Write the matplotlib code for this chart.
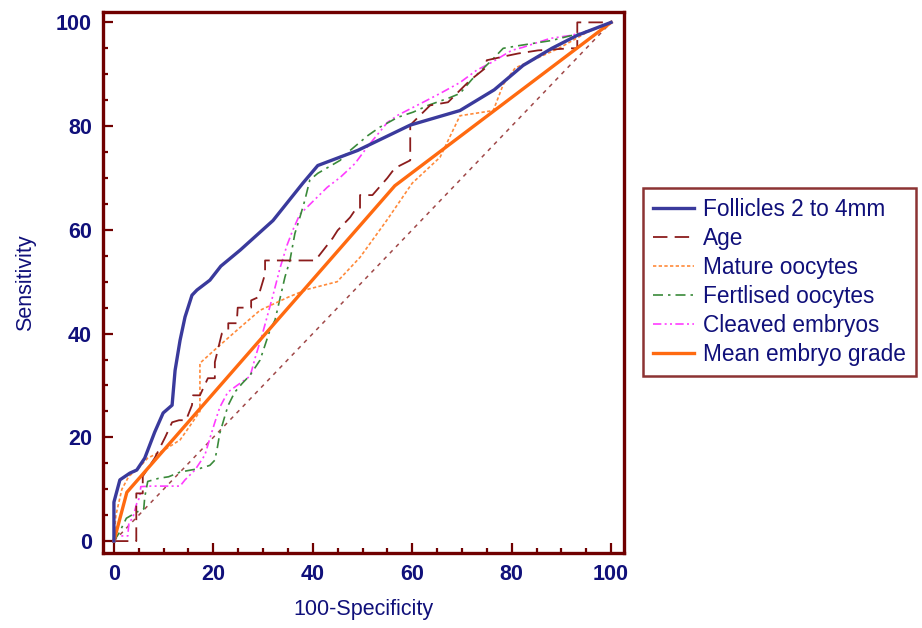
"""ROC curves for the IVF outcome predictors.

Each predictor's sensitivity is plotted against 100-specificity (both in %),
with the chance diagonal underneath for reference.
"""

import matplotlib
matplotlib.use("Agg")
import matplotlib.pyplot as plt
from matplotlib.ticker import MultipleLocator

plt.rcParams["font.family"] = ["Liberation Sans", "DejaVu Sans"]

# ---------------------------------------------------------------------
# ROC coordinates (x = 100-specificity, y = sensitivity)
# ---------------------------------------------------------------------
follicles_x = [0, 0, 1.2, 3.2, 4.6, 6.2, 7.2, 8.2, 9.9, 11.7, 12.3, 13.3, 14.3,
               15.7, 16.7, 19.3, 21.5, 25.4, 32, 38, 41, 49, 59.6, 69.6, 76.5,
               82.3, 88.1, 93.2, 100]
follicles_y = [0, 7.5, 11.8, 13.1, 13.7, 16, 18.5, 21, 24.7, 26.2, 32.9, 38.7, 43.2,
               47.4, 48.4, 50.3, 53, 56.1, 61.8, 69, 72.4, 75.3, 80.2, 83, 87,
               91.7, 95, 97.5, 100]

age_x = [0, 4.5, 4.5, 5.8, 5.8, 8.2, 10.3, 11.7, 13.1, 14.5, 15.7, 15.9, 17.3,
         18.9, 20.3, 20.3, 21.7, 23, 23, 24.7, 24.9, 27.6, 27.6, 29, 30.4, 30.4,
         40.5, 44, 45, 47.5, 48.5, 49.5, 49.5, 52, 55, 56.5, 59.6, 59.6, 63.6,
         66, 67.2, 69.6, 71.6, 74.6, 75, 79.3, 81.3, 85.3, 91.8, 93.2, 93.2, 100]
age_y = [0, 0, 9.2, 9.2, 12.5, 16, 20, 22.9, 23.3, 23.3, 26.2, 28.1, 28.1,
         31.4, 31.4, 34.5, 40, 40.7, 42, 42, 45, 45, 46.4, 47, 51.5, 54.1,
         54.1, 58.4, 59.9, 62.4, 63.8, 64, 66.7, 66.7, 70, 71.9, 73.4, 80.2, 84,
         84.4, 84.6, 86.9, 88.8, 91.1, 92.7, 93.6, 94, 94.6, 95, 95, 100, 100]

mature_x = [0, 0.4, 1.6, 3, 4.6, 6.8, 10, 13.3, 14.7, 17.3, 17.3, 21, 25.4,
            29.4, 35, 38.8, 44.9, 49.5, 55, 60, 65.6, 69.6, 76.3, 78.3, 80.7,
            89.5, 95, 100]
mature_y = [0, 5, 10, 12.5, 13.7, 16, 17.5, 19.5, 21.4, 25, 34.3, 37.5, 41.2,
            44.5, 47, 48.5, 50, 54.7, 62, 69, 74, 82, 83, 88, 91.2,
            95, 98, 100]

fertilised_x = [0, 1, 2.5, 4.6, 6, 6.2, 6.8, 9, 11, 13.3, 15.5, 17.3, 19.3, 20.3,
                20.8, 21.3, 22.5, 23, 24.3, 25.8, 27.4, 29.4, 31.4, 32.4, 34.4,
                35.4, 36.4, 37.4, 38.4, 39.4, 41, 45.5, 47.5, 51.1, 53.5, 57.1,
                60.2, 63.2, 67.6, 69.6, 72, 76, 78.3, 82, 88, 93.8, 96.8, 100]
fertilised_y = [0, 1.5, 4.4, 5.6, 6.2, 8.5, 11.5, 12.1, 12.4, 13.3, 13.7, 14, 14.6,
                15.6, 18, 20.8, 24.7, 26.2, 28.7, 30.4, 32, 34.9, 40.7, 42.6, 50.9,
                54.1, 59.3, 62.4, 65.7, 69.6, 70.9, 73.4, 75.3, 78.2, 79.8, 81.7,
                82.7, 84, 85.5, 86.3, 89, 92.7, 95, 95.6, 96.5, 97.9, 98.8, 100]

cleaved_x = [0, 0.2, 2.8, 3, 3.8, 4.6, 5.2, 5.4, 7.5, 13.3, 14.3, 16.3, 18.3,
             19.3, 20.3, 21.3, 22.9, 24.9, 27.4, 28.4, 29.8, 30.8, 32, 33.4, 34.8,
             36, 37.4, 42.9, 45.5, 48.5, 50.9, 55, 57.1, 63, 66, 69.6, 73, 76, 80,
             82.3, 87.7, 92, 96, 100]
cleaved_y = [0, 1, 1, 3.5, 4.5, 7.3, 8.5, 10.5, 10.6, 10.6, 11.8, 13.7, 16.6,
             19.8, 22.9, 25.8, 28.7, 30.1, 31.8, 35.3, 39.7, 43.2, 47.4, 52.6, 57,
             60, 63, 68.2, 70.1, 72.8, 75.9, 80.7, 82.1, 85, 86.5, 88.4, 90.8, 92.3,
             94.6, 95.2, 96.9, 97.5, 98.5, 100]

grade_x = [0, 2.6, 56.5, 100]
grade_y = [0, 9.4, 68.5, 100]

chance_x = [0, 100]
chance_y = [0, 100]

x_ticks = [0, 20, 40, 60, 80, 100]
y_ticks = [0, 20, 40, 60, 80, 100]

FRAME = "#700000"
TEXT = "#10107a"

fig = plt.figure(figsize=(9.22, 6.28), dpi=100)
ax = fig.add_axes([0.1117, 0.1194, 0.5651, 0.8615])

# chance line first so every curve sits on top of it
ax.plot(chance_x, chance_y, color="#a04848", lw=1.1, dashes=(2.6, 3.2))

ax.plot(cleaved_x, cleaved_y, color="#ff3cff", lw=1.2,
        dashes=(5, 2, 1.2, 2, 1.2, 2), label="Cleaved embryos")
ax.plot(fertilised_x, fertilised_y, color="#3a8a3a", lw=1.2,
        dashes=(6, 3, 1.5, 3), label="Fertlised oocytes")
ax.plot(mature_x, mature_y, color="#ff8a3a", lw=1.2,
        dashes=(2, 1.4), label="Mature oocytes")
ax.plot(age_x, age_y, color="#8b1c1c", lw=1.3,
        dashes=(8, 4), label="Age")
ax.plot(grade_x, grade_y, color="#ff6a10", lw=2.4, label="Mean embryo grade")
ax.plot(follicles_x, follicles_y, color="#3a3a9c", lw=2.4,
        label="Follicles 2 to 4mm")

ax.set_xlim(-2.2, 102.6)
ax.set_ylim(-2.3, 102)
ax.set_xticks(x_ticks)
ax.set_yticks(y_ticks)
ax.xaxis.set_minor_locator(MultipleLocator(5))
ax.yaxis.set_minor_locator(MultipleLocator(5))
ax.tick_params(which="both", direction="in", color=FRAME, width=1.6,
               labelcolor=TEXT, labelsize=15.5, pad=8)
ax.tick_params(which="major", length=7.5)
ax.tick_params(which="minor", length=3.8)
for lbl in ax.get_xticklabels() + ax.get_yticklabels():
    lbl.set_fontweight("bold")
for sp in ax.spines.values():
    sp.set_color(FRAME)
    sp.set_linewidth(2.4)

ax.set_xlabel("100-Specificity", color=TEXT, fontsize=15.5, labelpad=10)
ax.set_ylabel("Sensitivity", color=TEXT, fontsize=15.5, labelpad=14)

# legend order follows the list of predictors, not the draw order
handles, labels = ax.get_legend_handles_labels()
order = ["Follicles 2 to 4mm", "Age", "Mature oocytes", "Fertlised oocytes",
         "Cleaved embryos", "Mean embryo grade"]
lookup = dict(zip(labels, handles))
leg = fig.legend([lookup[k] for k in order], order,
                 loc="center left", bbox_to_anchor=(0.697, 0.551),
                 fontsize=16.3, frameon=True, fancybox=False,
                 handlelength=1.8, handletextpad=0.42, labelspacing=0.27,
                 borderpad=0.45, borderaxespad=0)
leg.get_frame().set_edgecolor(FRAME)
leg.get_frame().set_linewidth(1.8)
for t in leg.get_texts():
    t.set_color(TEXT)

fig.savefig("out.png", dpi=100)
